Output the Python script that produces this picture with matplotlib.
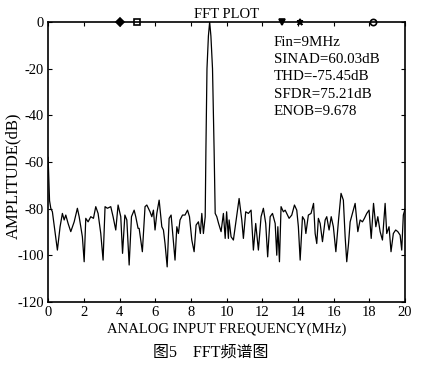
import numpy as np
import matplotlib
matplotlib.use("Agg")
import matplotlib.pyplot as plt

plt.rcParams['font.family'] = ['Liberation Serif', 'Noto Sans CJK SC']
plt.rcParams['axes.unicode_minus'] = False

# spectrum: frequency (MHz) and amplitude (dB)
freq = [0.00, 0.08, 0.15, 0.24, 0.52, 0.67, 0.80, 0.90, 0.99, 1.12, 1.27, 1.46, 1.64, 1.74, 1.83, 1.92,
        2.02, 2.11, 2.24, 2.39, 2.54, 2.67, 2.80, 2.95, 3.08, 3.19, 3.32, 3.51, 3.64, 3.79, 3.92, 4.07,
        4.17, 4.30, 4.41, 4.54, 4.67, 4.82, 4.91, 5.04, 5.10, 5.28, 5.43, 5.53, 5.71, 5.81, 5.90, 5.99,
        6.09, 6.22, 6.37, 6.46, 6.55, 6.67, 6.78, 6.89, 6.98, 7.11, 7.21, 7.30, 7.39, 7.53, 7.67, 7.81,
        7.92, 8.05, 8.18, 8.29, 8.42, 8.53, 8.61, 8.70, 8.80,
        8.84, 8.90, 8.98, 9.05, 9.12, 9.21, 9.30,
        9.36, 9.45, 9.55, 9.69, 9.82, 9.92, 10.00, 10.10, 10.14, 10.25, 10.38, 10.51, 10.70, 10.85,
        10.94, 11.07, 11.22, 11.37, 11.50, 11.63, 11.78, 11.93, 12.06, 12.19, 12.30, 12.44, 12.57,
        12.72, 12.81, 12.87, 12.96, 13.05, 13.18, 13.28, 13.37, 13.50, 13.65, 13.80, 13.93, 14.02,
        14.12, 14.25, 14.36, 14.44, 14.58, 14.73, 14.87, 14.96, 15.05, 15.14, 15.24, 15.37, 15.52,
        15.61, 15.74, 15.86, 15.98, 16.12, 16.27, 16.41, 16.54, 16.64, 16.73, 16.83, 16.92, 17.05,
        17.20, 17.35, 17.48, 17.61, 17.72, 17.85, 17.98, 18.10, 18.23, 18.36, 18.47, 18.60, 18.73,
        18.88, 18.97, 19.10, 19.21, 19.34, 19.47, 19.59, 19.72, 19.81, 19.90, 20.00]
amp = [-58.0, -76.5, -79.8, -81.3, -97.7, -87.7, -82.0, -84.8, -82.7, -86.3, -89.8, -85.6, -79.8, -83.4,
       -87.7, -92.0, -102.7, -84.1, -85.6, -83.4, -84.1, -79.1, -82.0, -90.6, -102.0, -79.1, -79.8,
       -79.1, -83.4, -89.1, -78.4, -83.4, -99.1, -82.7, -84.8, -104.1, -83.4, -80.6, -83.4, -88.4,
       -88.4, -98.4, -79.1, -78.4, -81.3, -83.4, -80.6, -89.1, -82.0, -76.3, -87.7, -89.1, -94.9,
       -104.9, -84.1, -82.7, -90.6, -102.0, -87.7, -90.6, -84.8, -82.7, -82.7, -80.6, -83.4, -93.4,
       -98.4, -87.0, -85.6, -90.6, -82.0, -90.6, -83.4,
       -55.0, -20.0, -6.0, 0.0, -6.0, -20.0, -55.0,
       -82.0, -83.4, -86.3, -89.8, -82.0, -92.7, -81.3, -92.7, -84.8, -92.0, -93.4, -86.3, -75.6,
       -84.8, -92.7, -81.3, -82.0, -80.6, -97.7, -86.3, -97.7, -83.4, -79.8, -86.3, -100.6, -83.4,
       -82.0, -86.3, -99.9, -87.7, -102.7, -79.1, -81.3, -80.6, -82.0, -84.1, -82.7, -78.4, -80.6,
       -87.7, -102.0, -83.4, -84.8, -90.6, -82.7, -82.0, -77.7, -90.6, -94.9, -84.1, -86.3, -94.1,
       -84.8, -83.4, -89.1, -83.4, -87.7, -98.4, -84.8, -73.4, -76.3, -92.0, -102.7, -94.9, -85.6,
       -82.0, -77.7, -89.8, -84.8, -85.6, -84.1, -82.0, -80.6, -92.7, -77.7, -87.7, -83.4, -89.8,
       -93.4, -77.7, -90.6, -87.7, -98.4, -90.6, -89.1, -89.8, -91.3, -97.7, -82.7, -80.0]

# harmonic markers along the top edge
harm_freq = [4.0, 5.0, 13.1, 14.1, 18.2]
harm_marker = ['D', 's', 'v', '*', 'o']

info = ["Fin=9MHz", "SINAD=60.03dB", "THD=-75.45dB", "SFDR=75.21dB", "ENOB=9.678"]

fig = plt.figure(figsize=(4.22, 3.73), dpi=100)
ax = fig.add_axes([0.114, 0.19, 0.846, 0.751])
ax.plot(freq, amp, color='black', lw=0.9)
for f, m in zip(harm_freq, harm_marker):
    ax.plot(f, 0, marker=m, color='black', mfc='none' if m in 'so' else 'black',
            ms=4 if m == 'D' else 4.5, mew=1.2, clip_on=False)

ax.set_xlim(0, 20)
ax.set_ylim(-120, 0)
ax.set_xticks(range(0, 21, 2))
ax.set_yticks(range(-120, 1, 20))
ax.tick_params(direction='in', top=True, right=True, length=3, labelsize=10.5, pad=3)
for s in ax.spines.values():
    s.set_linewidth(1.2)

ax.set_title("FFT PLOT", fontsize=10.5, pad=3)
ax.set_xlabel("ANALOG INPUT FREQUENCY(MHz)", fontsize=10.5, labelpad=2)
ax.set_ylabel("AMPLITUDE(dB)", fontsize=12)
ax.yaxis.set_label_coords(-0.075, 0.45)
ax.text(12.65, -6.0, "\n".join(info), fontsize=10.8, va='top', ha='left', linespacing=1.42)

fig.text(0.5, 0.055, "图5    FFT频谱图", ha='center', va='center', fontsize=11.5)

fig.savefig("out.png", dpi=100)
